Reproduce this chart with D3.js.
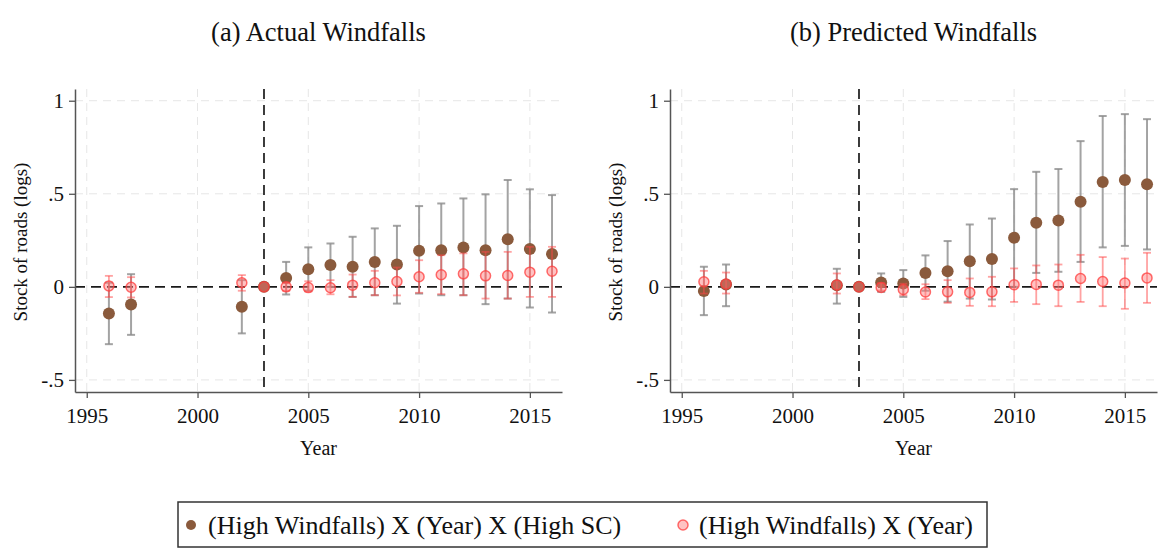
<!DOCTYPE html>
<html>
<head>
<meta charset="utf-8">
<script src="https://cdn.jsdelivr.net/npm/d3@7"></script>
<style>
  body { margin: 0; background: #fff; }
  svg { font-family: "Liberation Serif", "Times New Roman", serif; }
</style>
</head>
<body>
<svg id="chart" width="1167" height="549"></svg>
<script>
const years = [1996, 1997, 2002, 2003, 2004, 2005, 2006, 2007, 2008, 2009, 2010, 2011, 2012, 2013, 2014, 2015, 2016];
const xTicks = [1995, 2000, 2005, 2010, 2015];
const yTicks = [-0.5, 0, 0.5, 1];
const yTickLabels = ['-.5', '0', '.5', '1'];
const seriesNames = ['(High Windfalls) X (Year) X (High SC)', '(High Windfalls) X (Year)'];
const panelTitles = ['(a) Actual Windfalls', '(b) Predicted Windfalls'];

// panel (a): actual windfalls
const actualScCoef = [-0.143, -0.095, -0.107, 0, 0.048, 0.095, 0.117, 0.108, 0.134, 0.12, 0.194, 0.197, 0.212, 0.197, 0.256, 0.203, 0.176];
const actualScLo   = [-0.308, -0.258, -0.25, 0, -0.041, -0.02, 0.0, -0.054, -0.045, -0.09, -0.036, -0.045, -0.045, -0.093, -0.063, -0.111, -0.138];
const actualScHi   = [0.022, 0.068, 0.036, 0, 0.134, 0.212, 0.233, 0.269, 0.314, 0.328, 0.434, 0.448, 0.475, 0.497, 0.574, 0.524, 0.493];
const actualCoef = [0.005, -0.002, 0.022, 0, 0.0, -0.004, -0.005, 0.009, 0.022, 0.029, 0.054, 0.065, 0.07, 0.059, 0.061, 0.079, 0.084];
const actualLo   = [-0.055, -0.057, -0.021, 0, -0.021, -0.025, -0.04, -0.054, -0.045, -0.046, -0.032, -0.039, -0.045, -0.063, -0.063, -0.054, -0.054];
const actualHi   = [0.059, 0.052, 0.063, 0, 0.022, 0.03, 0.036, 0.066, 0.086, 0.104, 0.143, 0.17, 0.18, 0.188, 0.188, 0.215, 0.215];

// panel (b): predicted windfalls
const predScCoef = [-0.023, 0.013, 0.009, 0, 0.024, 0.018, 0.074, 0.084, 0.138, 0.149, 0.264, 0.344, 0.357, 0.457, 0.563, 0.574, 0.551];
const predScLo   = [-0.152, -0.104, -0.09, 0, -0.027, -0.054, -0.021, -0.08, -0.063, -0.068, 0.0, 0.075, 0.081, 0.134, 0.212, 0.22, 0.201];
const predScHi   = [0.108, 0.12, 0.097, 0, 0.072, 0.09, 0.169, 0.246, 0.335, 0.367, 0.525, 0.618, 0.633, 0.783, 0.918, 0.928, 0.901];
const predCoef = [0.027, 0.015, 0.01, 0, -0.003, -0.014, -0.028, -0.027, -0.03, -0.027, 0.011, 0.013, 0.009, 0.045, 0.029, 0.02, 0.048];
const predLo   = [-0.036, -0.036, -0.036, 0, -0.02, -0.045, -0.066, -0.086, -0.102, -0.104, -0.081, -0.093, -0.104, -0.081, -0.104, -0.118, -0.086];
const predHi   = [0.086, 0.077, 0.072, 0, 0.02, 0.017, 0.014, 0.036, 0.045, 0.054, 0.099, 0.115, 0.12, 0.172, 0.16, 0.152, 0.183];

const treatYear = 2003;

const brown = '#8a5a3c';
const svg = d3.select('#chart');

const panels = [
  {title: panelTitles[0], left: 75, right: 562, sc: [actualScCoef, actualScLo, actualScHi], base: [actualCoef, actualLo, actualHi]},
  {title: panelTitles[1], left: 670, right: 1157, sc: [predScCoef, predScLo, predScHi], base: [predCoef, predLo, predHi]}
];

const plotTop = 89, plotBottom = 392;
const y = d3.scaleLinear().domain([-0.565, 1.063]).range([plotBottom, plotTop]);

panels.forEach(p => {
  const x = d3.scaleLinear().domain([1994.47, 2016.45]).range([p.left, p.right]);
  const g = svg.append('g');

  // grid
  g.selectAll('.hgrid')
    .data(yTicks.filter(d => d !== 0))
    .enter().append('line')
    .attr('x1', p.left).attr('x2', p.right)
    .attr('y1', d => y(d)).attr('y2', d => y(d))
    .style('stroke', '#e6e6e6').style('stroke-dasharray', '8,6');
  g.selectAll('.vgrid')
    .data(xTicks)
    .enter().append('line')
    .attr('x1', d => x(d)).attr('x2', d => x(d))
    .attr('y1', plotTop).attr('y2', plotBottom)
    .style('stroke', '#e6e6e6').style('stroke-dasharray', '8,6');

  // reference lines
  g.append('line')
    .attr('x1', p.left).attr('x2', p.right)
    .attr('y1', y(0)).attr('y2', y(0))
    .style('stroke', '#1a1a1a').style('stroke-width', 1.7).style('stroke-dasharray', '10,6');
  g.append('line')
    .attr('x1', x(treatYear)).attr('x2', x(treatYear))
    .attr('y1', plotTop).attr('y2', plotBottom)
    .style('stroke', '#1a1a1a').style('stroke-width', 1.7).style('stroke-dasharray', '10,6');

  // axes
  const yAxis = d3.axisLeft(y).tickValues(yTicks).tickFormat((d, i) => yTickLabels[i])
    .tickSize(6).tickSizeOuter(0).tickPadding(5);
  const xAxis = d3.axisBottom(x).tickValues(xTicks).tickFormat(d3.format('d'))
    .tickSize(6).tickSizeOuter(0).tickPadding(10);

  const ya = g.append('g').attr('transform', `translate(${p.left},0)`).call(yAxis);
  const xa = g.append('g').attr('transform', `translate(0,${plotBottom})`).call(xAxis);
  [ya, xa].forEach(a => {
    a.select('.domain').style('stroke', '#555').style('stroke-width', 1.5);
    a.selectAll('.tick line').style('stroke', '#555').style('stroke-width', 1.3);
    a.selectAll('text').style('font-family', '"Liberation Serif", serif')
      .style('font-size', '21px').style('fill', '#111');
  });

  // error bars + points
  const drawSeries = (vals, barColor, barWidth, pointFn) => {
    const [coef, lo, hi] = vals;
    const rows = years.map((yr, i) => ({yr, c: coef[i], lo: lo[i], hi: hi[i]}));
    const bars = g.append('g');
    rows.filter(d => d.hi !== d.lo).forEach(d => {
      bars.append('line').attr('x1', x(d.yr)).attr('x2', x(d.yr))
        .attr('y1', y(d.lo)).attr('y2', y(d.hi));
      bars.append('line').attr('x1', x(d.yr) - 4).attr('x2', x(d.yr) + 4)
        .attr('y1', y(d.lo)).attr('y2', y(d.lo));
      bars.append('line').attr('x1', x(d.yr) - 4).attr('x2', x(d.yr) + 4)
        .attr('y1', y(d.hi)).attr('y2', y(d.hi));
    });
    bars.selectAll('line').style('stroke', barColor).style('stroke-width', barWidth);
    pointFn(g.append('g').selectAll('circle').data(rows).enter().append('circle')
      .attr('cx', d => x(d.yr)).attr('cy', d => y(d.c)));
  };

  drawSeries(p.sc, 'rgba(140,140,140,0.8)', 2, c => c.attr('r', 6).style('fill', brown));
  drawSeries(p.base, 'rgba(255,70,70,0.5)', 1.8, c => c.attr('r', 5)
    .style('fill', 'rgba(255,120,120,0.45)').style('stroke', 'rgba(255,60,60,0.75)').style('stroke-width', 1.5));

  // titles
  const cx = (p.left + p.right) / 2;
  svg.append('text').attr('x', cx).attr('y', 41).attr('text-anchor', 'middle')
    .style('font-size', '26.5px').style('fill', '#111').text(p.title);
  svg.append('text').attr('x', cx).attr('y', 455).attr('text-anchor', 'middle')
    .style('font-size', '20px').style('fill', '#111').text('Year');
  svg.append('text').attr('transform', `translate(${p.left - 48},242) rotate(-90)`)
    .attr('text-anchor', 'middle').style('font-size', '19px').style('fill', '#111')
    .text('Stock of roads (logs)');
});

// legend
const legend = svg.append('g');
legend.append('rect').attr('x', 178).attr('y', 502).attr('width', 809).attr('height', 45)
  .style('fill', 'none').style('stroke', '#333').style('stroke-width', 1.5);
const legendItems = [
  {name: seriesNames[0], cx: 191, tx: 208, fill: brown, stroke: 'none'},
  {name: seriesNames[1], cx: 683, tx: 699, fill: 'rgba(255,120,120,0.45)', stroke: 'rgba(255,60,60,0.75)'}
];
legendItems.forEach(d => {
  legend.append('circle').attr('cx', d.cx).attr('cy', 525).attr('r', 5)
    .style('fill', d.fill).style('stroke', d.stroke).style('stroke-width', 1.5);
  legend.append('text').attr('x', d.tx).attr('y', 534)
    .style('font-size', '26px').style('fill', '#111').text(d.name);
});
</script>
</body>
</html>
